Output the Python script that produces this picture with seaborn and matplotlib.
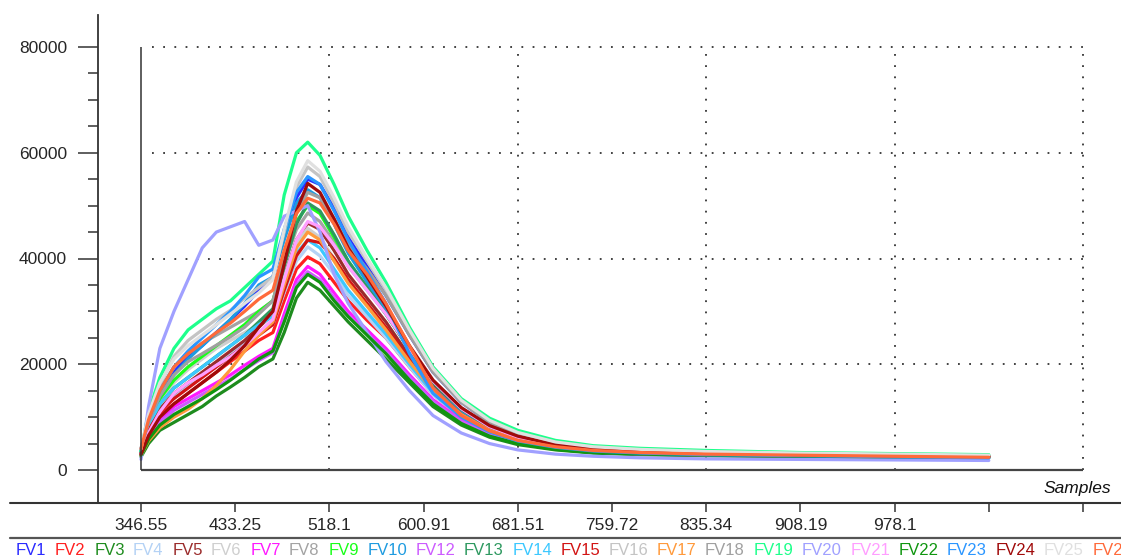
import matplotlib
matplotlib.use('Agg')
import matplotlib.pyplot as plt
import seaborn as sns
import pandas as pd
from matplotlib.lines import Line2D
from matplotlib.ticker import FixedLocator

# ---------------- data (values in thousands of counts) ----------------
samples = [0, 8, 20, 35, 50, 65, 80, 95, 110, 125, 140, 152, 165, 177, 190, 205,
           220, 240, 260, 285, 310, 340, 370, 400, 440, 480, 530, 600, 700, 800, 900]

fv1 = [3.5, 9, 14, 18.5, 21.5, 23.5, 26, 28.4, 31, 34, 36.5, 44, 51.5, 55, 54, 49.5, 44, 38.5, 33, 25.5, 18.5, 12.8, 9, 6.8, 5.1, 4.2, 3.7, 3.3, 3.0, 2.8, 2.6]
fv2 = [3, 7, 10.5, 12.5, 14.5, 16.5, 18.5, 20.5, 22.5, 24.5, 26, 32, 38, 40.3, 39, 35.5, 32, 28.3, 25, 19.5, 14.3, 10, 7.2, 5.5, 4.3, 3.6, 3.2, 2.9, 2.7, 2.6, 2.5]
fv3 = [2.5, 5, 7.5, 9, 10.5, 12, 14, 15.7, 17.5, 19.5, 21, 26, 32.5, 35.5, 34, 31, 28, 24.5, 21, 16.5, 12, 8.5, 6.2, 4.8, 3.8, 3.2, 2.9, 2.7, 2.5, 2.4, 2.3]
fv4 = [3, 7.5, 11.5, 14, 16, 18, 20, 22, 24, 26, 27.5, 33.5, 39.5, 42.2, 40.5, 37, 33, 29, 25, 19.5, 14.2, 10, 7.2, 5.5, 4.3, 3.6, 3.2, 2.9, 2.7, 2.5, 2.4]
fv5 = [3.2, 7.5, 11.5, 14.5, 16.5, 18.5, 20.5, 22.5, 24.5, 27, 29.5, 36.5, 43.5, 46.7, 45.5, 41.5, 37, 32.5, 28, 21.5, 15.8, 11, 7.9, 6.0, 4.6, 3.9, 3.4, 3.1, 2.9, 2.7, 2.6]
fv6 = [3.5, 8.5, 13, 16.5, 19, 21, 23, 24.5, 26, 27.5, 29.5, 36.5, 43, 45.7, 44, 40, 35.5, 31, 26.5, 20.5, 15, 10.5, 7.5, 5.7, 4.4, 3.7, 3.3, 3.0, 2.8, 2.6, 2.5]
fv7 = [3, 6.5, 9.5, 12, 13.5, 15, 16.5, 18, 19.8, 21.5, 23, 29.5, 36, 38.5, 37, 33.5, 30, 26.5, 23, 18, 13.3, 9.4, 6.9, 5.3, 4.2, 3.5, 3.1, 2.9, 2.7, 2.6, 2.5]
fv8 = [4, 9.5, 15, 19.5, 22, 24, 25.5, 27, 28.5, 30, 32, 39, 45.5, 48.6, 47, 43, 38.5, 34, 29.5, 23, 16.8, 11.6, 8.2, 6.2, 4.7, 3.9, 3.4, 3.1, 2.9, 2.7, 2.6]
fv9 = [3.5, 8.5, 13.5, 17, 19.5, 21.5, 23.5, 25.5, 27.5, 30, 32, 39.5, 47, 50, 48.5, 44, 39.5, 34.5, 29.5, 23, 16.7, 11.6, 8.2, 6.2, 4.7, 3.9, 3.4, 3.1, 2.9, 2.7, 2.6]
fv10 = [3.8, 9, 14, 18, 21, 23.5, 26, 28.5, 31.5, 35, 36.5, 43.5, 50.5, 53, 51.5, 46.5, 41, 35.5, 30, 22.5, 15.5, 10.8, 7.7, 5.8, 4.5, 3.7, 3.3, 2.9, 2.7, 2.5, 2.3]
fv12 = [2.8, 6, 9, 11.3, 12.8, 14.3, 15.8, 17.2, 19, 20.7, 22.2, 28.5, 35, 37.5, 36, 32.5, 29.2, 25.8, 22.4, 17.6, 13, 9.2, 6.7, 5.2, 4.1, 3.4, 3.0, 2.8, 2.6, 2.5, 2.4]
fv13 = [3.3, 8, 12.5, 15.5, 17.5, 19.5, 21.5, 23.5, 25.5, 28, 30.5, 38.5, 46.5, 50.5, 49, 44.5, 39.5, 34.5, 29.5, 22.8, 16.5, 11.5, 8.1, 6.1, 4.6, 3.8, 3.4, 3.1, 2.9, 2.7, 2.6]
fv14 = [3.5, 8.5, 12.5, 15.5, 17.5, 19.5, 21.5, 23.5, 25.5, 27.5, 29, 35, 41, 43.5, 42, 38, 34, 29.8, 25.7, 20, 14.6, 10.2, 7.4, 5.6, 4.4, 3.7, 3.3, 3.0, 2.8, 2.6, 2.5]
fv15 = [3.2, 7.5, 11, 13.5, 15.5, 17.5, 19.5, 21.5, 23.5, 25.5, 27.5, 34, 40.5, 43.5, 43, 40, 36, 31.5, 27, 21, 15.2, 10.5, 7.5, 5.7, 4.4, 3.7, 3.3, 3.0, 2.8, 2.6, 2.5]
fv16 = [4, 10, 16, 21.5, 24.5, 26.5, 28.5, 30.2, 32.5, 34.5, 36.5, 45, 53.5, 57.3, 55.5, 50.5, 45, 39.5, 34, 26, 18.8, 13, 9.2, 7, 5.2, 4.3, 3.8, 3.4, 3.1, 2.9, 2.7]
fv17 = [2.8, 5.5, 8, 10, 11.5, 13.5, 16, 19, 22.5, 25.5, 28, 35, 42, 45, 43.5, 39.5, 35.3, 31, 26.5, 20.5, 15, 10.5, 7.5, 5.7, 4.4, 3.7, 3.3, 3.0, 2.8, 2.6, 2.5]
fv18 = [3.8, 9, 14, 18, 20.5, 22, 23.6, 25.2, 27, 29.5, 32, 40, 48.5, 52.5, 51.5, 47.5, 42.5, 38, 33, 25.5, 18.5, 12.8, 9.0, 6.8, 5.1, 4.2, 3.7, 3.3, 3.0, 2.8, 2.7]
fv19 = [3.5, 11, 17.5, 23, 26.5, 28.5, 30.5, 32, 34.5, 37, 39.5, 52, 60, 62, 59.5, 54, 48, 41.5, 35.5, 27, 19.5, 13.5, 9.8, 7.5, 5.6, 4.6, 4.1, 3.7, 3.3, 3.1, 2.9]
fv20 = [2, 12, 23, 30, 36, 42, 45, 46, 47, 42.5, 43.5, 48, 49, 50, 45, 37, 31.5, 26, 20.5, 15, 10.3, 7, 5, 3.8, 3, 2.6, 2.3, 2.1, 2.0, 1.9, 1.8]
fv21 = [3, 7, 11, 14.5, 16.5, 18, 19.8, 21.4, 23.5, 26, 28.5, 36, 43.5, 47, 46, 42.5, 38.5, 34, 29.5, 23, 16.8, 11.6, 8.2, 6.2, 4.7, 3.9, 3.4, 3.1, 2.9, 2.7, 2.6]
fv22 = [2.8, 5.8, 8.5, 10.5, 12, 13.5, 15.2, 17, 19, 21, 22.5, 28, 34.5, 37, 35.5, 32, 29, 25.5, 22, 17, 12.5, 8.8, 6.4, 5, 3.9, 3.3, 3, 2.8, 2.6, 2.5, 2.4]
fv23 = [4, 9.5, 15, 19.5, 22.5, 25, 27.5, 30, 33, 36.5, 38, 45.5, 52.5, 55.5, 54, 49, 43.5, 37.5, 31.5, 22, 14.5, 10, 7.2, 5.5, 4.3, 3.6, 3.2, 2.9, 2.7, 2.5, 2.3]
fv24 = [3, 6.5, 10, 12.5, 14.5, 16.5, 18.5, 20.8, 23.5, 27, 30, 39, 49, 54.2, 52.5, 47.5, 42, 36.5, 31, 23.5, 17, 11.8, 8.4, 6.4, 4.8, 4.0, 3.5, 3.2, 2.9, 2.7, 2.6]
fv25 = [4, 10.5, 16.5, 21, 23.5, 25.5, 27.5, 29.5, 31.5, 33.5, 36, 45.5, 54.5, 58.5, 56.5, 51.5, 46, 40, 34.5, 26.5, 19.2, 13.2, 9.4, 7.1, 5.3, 4.4, 3.9, 3.5, 3.2, 3.0, 2.8]
fv26 = [4, 9.5, 15, 19.5, 22, 24, 26, 27.8, 30, 32.3, 34, 41.5, 48.5, 51.4, 50.5, 46.5, 41.5, 37, 31.5, 23.5, 15.5, 10.3, 7.4, 5.6, 4.4, 3.7, 3.3, 3.0, 2.8, 2.6, 2.4]

series_names = ['FV1', 'FV2', 'FV3', 'FV4', 'FV5', 'FV6', 'FV7', 'FV8', 'FV9', 'FV10',
                'FV12', 'FV13', 'FV14', 'FV15', 'FV16', 'FV17', 'FV18', 'FV19', 'FV20',
                'FV21', 'FV22', 'FV23', 'FV24', 'FV25', 'FV26']
series_values = [fv1, fv2, fv3, fv4, fv5, fv6, fv7, fv8, fv9, fv10, fv12, fv13, fv14,
                 fv15, fv16, fv17, fv18, fv19, fv20, fv21, fv22, fv23, fv24, fv25, fv26]
series_colors = ['#2B2BFF', '#FF2020', '#1E8C1E', '#B4D2F5', '#9B2C2C', '#CFCFCF', '#FF19FF',
                 '#A3A3A3', '#19FF19', '#1E9BE0', '#CC5CFF', '#2E9960', '#3CC8FF', '#D21414',
                 '#C4C4C4', '#FF9A3C', '#A0A0A0', '#1EFF8C', '#A0A0FF', '#FF9EFF', '#0F960F',
                 '#2B96FF', '#A00A0A', '#E0E0E0', '#FF6A3A']

x_tick_labels = ['346.55', '433.25', '518.1', '600.91', '681.51', '759.72',
                 '835.34', '908.19', '978.1', '', '']
y_ticks = [0, 20000, 40000, 60000, 80000]

rows = []
for name, vals in zip(series_names, series_values):
    for s, v in zip(samples, vals):
        rows.append({'sample': s, 'value': v * 1000, 'series': name})
df = pd.DataFrame(rows)

# ---------------- figure ----------------
W, H = 1121, 557
sns.set_style('white')
plt.rcParams['font.family'] = ['Liberation Sans', 'DejaVu Sans']
plt.rcParams['axes.facecolor'] = 'white'

fig = plt.figure(figsize=(W / 100, H / 100), dpi=100)
ax_left, ax_right, ax_top, ax_bottom = 98, 1121, 15, 503
ax = fig.add_axes([ax_left / W, 1 - ax_bottom / H, (ax_right - ax_left) / W, (ax_bottom - ax_top) / H])

px_per_x = 942 / 1000.0
px_per_y = 423 / 80000.0
ax.set_xlim(-(141 - ax_left) / px_per_x, (ax_right - 141) / px_per_x)
ax.set_ylim(-(ax_bottom - 470) / px_per_y, (470 - ax_top) / px_per_y)

palette = dict(zip(series_names, series_colors))
sns.lineplot(data=df, x='sample', y='value', hue='series', hue_order=series_names,
             palette=palette, estimator=None, sort=False, legend=False,
             linewidth=2.3, ax=ax, zorder=3)

# dotted grid
dot = (0, (1, 5.2))
for yv in y_ticks[1:]:
    ax.plot([12, 1000], [yv, yv], color='#333333', lw=1.3, ls=dot, zorder=1)
for xv in [200, 400, 600, 800, 1000]:
    ax.plot([xv, xv], [0, 80000], color='#333333', lw=1.3, ls=dot, zorder=1)

# inner axes lines
ax.plot([0, 1000], [0, 0], color='#444444', lw=1.6, zorder=4, solid_capstyle='butt')
ax.plot([0, 0], [0, 80000], color='#333333', lw=1.1, zorder=4, solid_capstyle='butt')

# outer spines
for sp in ['top', 'right', 'bottom']:
    ax.spines[sp].set_visible(False)
ax.spines['left'].set_color('#333333')
ax.spines['left'].set_linewidth(1.3)

fig.add_artist(Line2D([10 / W, 1.0], [1 - 503 / H, 1 - 503 / H], color='#333333', lw=1.5,
                      transform=fig.transFigure))
fig.add_artist(Line2D([10 / W, 1.0], [1 - 537.5 / H, 1 - 537.5 / H], color='#555555', lw=1.6,
                      transform=fig.transFigure))

ax.set_xticks([i * 100 for i in range(11)])
ax.set_xticklabels(x_tick_labels)
ax.set_yticks(y_ticks)
ax.set_yticklabels([str(v) for v in y_ticks])
ax.yaxis.set_minor_locator(FixedLocator(
    [v for v in range(5000, 80000, 5000) if v % 20000 != 0]))
ax.tick_params(axis='x', which='major', direction='out', length=6.5, width=1.1,
               color='#333333', pad=4.5, labelsize=12.5, bottom=True)
ax.tick_params(axis='y', which='major', direction='out', length=14.4, width=1.1,
               color='#333333', pad=8, labelsize=12.5, left=True)
ax.tick_params(axis='y', which='minor', direction='out', length=7.2, width=1.1,
               color='#333333', left=True)
ax.set_xlabel('')
ax.set_ylabel('')

fig.text(1111 / W, 1 - 488 / H, 'Samples', style='italic', fontsize=12.5,
         ha='right', va='center', color='#111111')

# legend strip of coloured names
fig.canvas.draw()
renderer = fig.canvas.get_renderer()
xpos = 16
for name, col in zip(series_names, series_colors):
    t = fig.text(xpos / W, 1 - 555 / H, name, color=col, fontsize=12, ha='left', va='baseline')
    bb = t.get_window_extent(renderer)
    xpos += bb.width + 8.5

fig.savefig('out.png', dpi=100, facecolor='white')
